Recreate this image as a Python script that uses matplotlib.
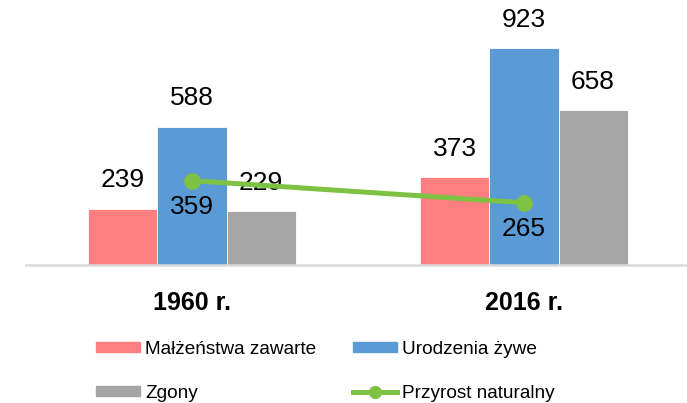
import numpy as np
import matplotlib.pyplot as plt
from matplotlib.lines import Line2D
from matplotlib.patches import Patch

plt.rcParams['font.family'] = ['Liberation Sans', 'DejaVu Sans']

# data
years = ['1960 r.', '2016 r.']
malzenstwa = [239, 373]
urodzenia = [588, 923]
zgony = [229, 658]
przyrost = [359, 265]

c_pink = '#FF7F80'
c_blue = '#5B9BD5'
c_gray = '#A5A5A5'
c_green = '#7DC242'

fig = plt.figure(figsize=(6.87, 4.03), dpi=100)
# axes spans a bit past the right edge, like the original
ax = fig.add_axes([26 / 687, 138 / 403, 664 / 687, 235 / 403])

x = np.arange(len(years))
w = 0.208

b1 = ax.bar(x - w, malzenstwa, w, color=c_pink, edgecolor='white', linewidth=0.6)
b2 = ax.bar(x, urodzenia, w, color=c_blue, edgecolor='white', linewidth=0.6)
b3 = ax.bar(x + w, zgony, w, color=c_gray, edgecolor='white', linewidth=0.6)
ax.plot(x, przyrost, color=c_green, linewidth=3.6, marker='o', markersize=11, zorder=5)

# data labels above bars
for bars, vals in [(b1, malzenstwa), (b2, urodzenia), (b3, zgony)]:
    for rect, v in zip(bars, vals):
        ax.annotate(str(v), (rect.get_x() + rect.get_width() / 2, v),
                    xytext=(0, 20.5), textcoords='offset points',
                    ha='center', va='center', fontsize=19, annotation_clip=False)

# labels below the line points
for xi, v in zip(x, przyrost):
    ax.annotate(str(v), (xi, v), xytext=(0, -19), textcoords='offset points',
                ha='center', va='center', fontsize=19, zorder=6)

ax.set_xlim(-0.5, 1.5)
ax.set_ylim(0, 1000)
ax.set_yticks([])
ax.set_xticks(x)
ax.set_xticklabels(years, fontsize=18, fontweight='bold')
ax.tick_params(axis='x', length=0, pad=19)
for s in ['top', 'right', 'left']:
    ax.spines[s].set_visible(False)
ax.spines['bottom'].set_color('#D9D9D9')
ax.spines['bottom'].set_linewidth(1.8)

handles = [
    Patch(color=c_pink),
    Patch(color=c_gray),
    Patch(color=c_blue),
    Line2D([0], [0], color=c_green, linewidth=3.6, marker='o', markersize=8.5),
]
labels = ['Małżeństwa zawarte', 'Zgony', 'Urodzenia żywe', 'Przyrost naturalny']
fig.legend(handles, labels, loc='upper left', bbox_to_anchor=(96 / 687, 1 - 341 / 403),
           ncol=2, frameon=False, fontsize=13.7, borderpad=0, borderaxespad=0,
           handlelength=2.3, handleheight=0.4, handletextpad=0.27,
           columnspacing=1.95, labelspacing=1.4)

fig.savefig('out.png', dpi=100)
